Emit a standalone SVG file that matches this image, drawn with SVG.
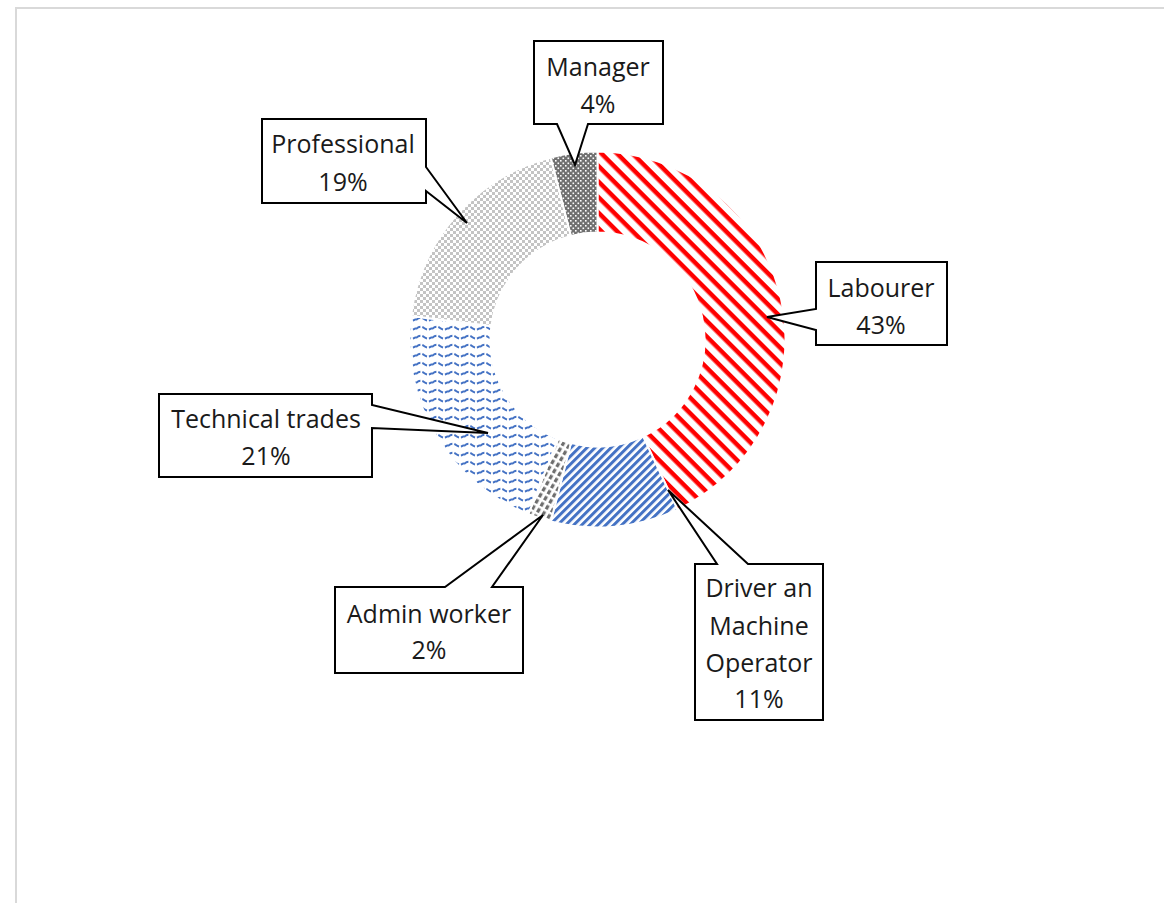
<svg xmlns="http://www.w3.org/2000/svg" width="1164" height="903" viewBox="0 0 1164 903">
<defs>
<style>
.lbl{font-family:"Open Sans","Noto Sans","Liberation Sans",sans-serif;font-size:25px;fill:#1a1a1a;text-anchor:middle}
.box{fill:#fff;stroke:#000;stroke-width:2;stroke-linejoin:miter}
.slice{stroke:#fff;stroke-width:2}
</style>
<pattern id="pLab" patternUnits="userSpaceOnUse" width="11" height="11" patternTransform="rotate(45)">
<rect width="11" height="11" fill="#fff"/><rect width="11" height="4.5" fill="#ff0000"/>
</pattern>
<pattern id="pDrv" patternUnits="userSpaceOnUse" width="5.66" height="5.66" patternTransform="rotate(-45)">
<rect width="5.66" height="5.66" fill="#fff"/><rect width="5.66" height="3" fill="#4472c4"/>
</pattern>
<pattern id="pAdm" patternUnits="userSpaceOnUse" width="7" height="6" patternTransform="rotate(-60)">
<rect width="7" height="6" fill="#fff"/><rect width="4.5" height="3.2" fill="#6e6e6e"/>
</pattern>
<pattern id="pTec" patternUnits="userSpaceOnUse" width="16" height="9">
<rect width="16" height="9" fill="#fff"/><path d="M0,5 Q4,1 8,4 T16,4" fill="none" stroke="#4472c4" stroke-width="2" stroke-dasharray="5,2"/>
</pattern>
<pattern id="pPro" patternUnits="userSpaceOnUse" width="6" height="6">
<rect width="6" height="6" fill="#fff"/><rect width="3" height="3" fill="#c4c4c4"/><rect x="3" y="3" width="3" height="3" fill="#c4c4c4"/>
</pattern>
<pattern id="pMan" patternUnits="userSpaceOnUse" width="5" height="5">
<rect width="5" height="5" fill="#707070"/><rect width="1.6" height="1.6" fill="#fff"/><rect x="2.5" y="2.5" width="1.6" height="1.6" fill="#fff"/>
</pattern>
</defs>
<rect width="1164" height="903" fill="#fff"/>
<path d="M16,903 V8 H1164" fill="none" stroke="#d9d9d9" stroke-width="2"/>
<g id="donut">
<path id="s-labourer" class="slice" fill="url(#pLab)" d="M597.5,151.5 A188,188 0 0 1 677.55,509.61 L643.06,436.32 A107,107 0 0 0 597.5,232.5 Z"/>
<path id="s-driver" class="slice" fill="url(#pDrv)" d="M677.55,509.61 A188,188 0 0 1 550.75,521.59 L570.89,443.14 A107,107 0 0 0 643.06,436.32 Z"/>
<path id="s-admin" class="slice" fill="url(#pAdm)" d="M550.75,521.59 A188,188 0 0 1 528.29,514.30 L558.11,438.99 A107,107 0 0 0 570.89,443.14 Z"/>
<path id="s-technical" class="slice" fill="url(#pTec)" d="M528.29,514.30 A188,188 0 0 1 410.98,315.94 L491.34,326.09 A107,107 0 0 0 558.11,438.99 Z"/>
<path id="s-professional" class="slice" fill="url(#pPro)" d="M410.98,315.94 A188,188 0 0 1 550.75,157.41 L570.89,235.86 A107,107 0 0 0 491.34,326.09 Z"/>
<path id="s-manager" class="slice" fill="url(#pMan)" d="M550.75,157.41 A188,188 0 0 1 597.5,151.5 L597.5,232.5 A107,107 0 0 0 570.89,235.86 Z"/>
</g>
<g id="connectors"></g>
<g id="label-manager">
<path class="box" d="M534,41 H663 V124 H588 L575,165 L557,124 H534 Z"/>
<text class="lbl" x="598" y="76">Manager</text><text class="lbl" x="598" y="113">4%</text>
</g>
<g id="label-professional">
<path class="box" d="M262,119 H426 V167 L467,223 L426,191 V203 H262 Z"/>
<text class="lbl" x="343" y="153">Professional</text><text class="lbl" x="343" y="191">19%</text>
</g>
<g id="label-labourer">
<path class="box" d="M816,262 H947 V345 H816 V330 L767,317 L816,309 Z"/>
<text class="lbl" x="881" y="297">Labourer</text><text class="lbl" x="881" y="334">43%</text>
</g>
<g id="label-technical">
<path class="box" d="M159,394 H372 V405 L488,433 L372,428 V477 H159 Z"/>
<text class="lbl" x="266" y="428">Technical trades</text><text class="lbl" x="266" y="465">21%</text>
</g>
<g id="label-admin">
<path class="box" d="M335,587 H445 L543,515 L492,587 H523 V673 H335 Z"/>
<text class="lbl" x="429" y="623">Admin worker</text><text class="lbl" x="429" y="659">2%</text>
</g>
<g id="label-driver">
<path class="box" d="M695,564 H717 L668,490 L748,564 H823 V720 H695 Z"/>
<text class="lbl" x="759" y="597">Driver an</text><text class="lbl" x="759" y="635">Machine</text><text class="lbl" x="759" y="672">Operator</text><text class="lbl" x="759" y="708">11%</text>
</g>
</svg>
